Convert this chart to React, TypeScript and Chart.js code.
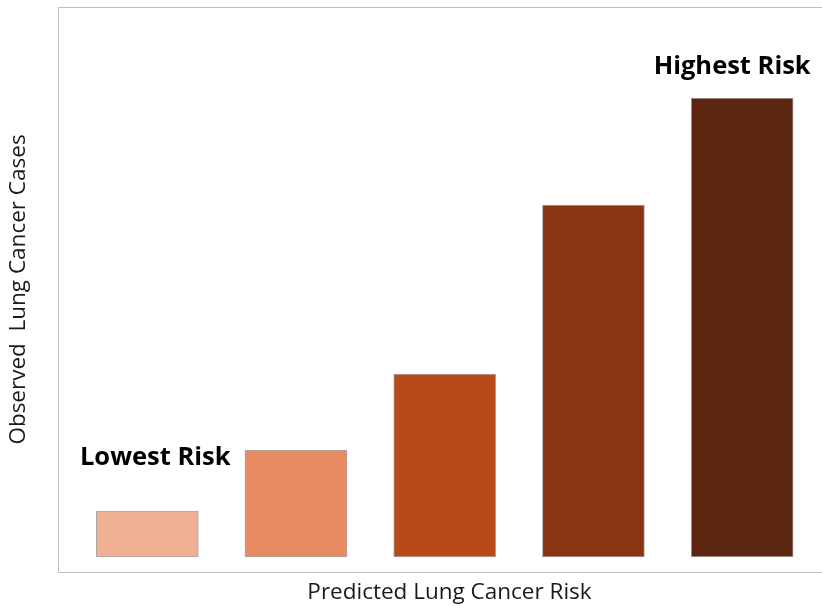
import React, { useEffect, useRef } from "react";
import { Chart, registerables } from "chart.js";

Chart.register(...registerables);

const riskGroups = [0, 1, 2, 3, 4];
const observedCases = [46, 107, 183, 352, 459];
const barColors = ["#F0B094", "#E88A62", "#B84A1A", "#8A3414", "#5C2510"];
const xAxisTitle = "Predicted Lung Cancer Risk";
const yAxisTitle = "Observed  Lung Cancer Cases";
const lowLabel = "Lowest Risk";
const highLabel = "Highest Risk";

const FONT = "'Open Sans', 'Noto Sans', sans-serif";

const decorPlugin = {
  id: "decor",
  beforeDatasetsDraw(chart: any) {
    const { ctx, chartArea } = chart;
    ctx.save();
    ctx.strokeStyle = "#bfbfbf";
    ctx.lineWidth = 1;
    ctx.strokeRect(
      Math.round(chartArea.left) + 0.5,
      Math.round(chartArea.top) + 0.5,
      Math.round(chartArea.right - chartArea.left) + 2,
      Math.round(chartArea.bottom - chartArea.top)
    );
    ctx.restore();
  },
  afterDatasetsDraw(chart: any) {
    const { ctx, chartArea } = chart;
    const meta = chart.getDatasetMeta(0);
    ctx.save();
    ctx.fillStyle = "#000000";
    ctx.font = `bold 25.5px ${FONT}`;
    ctx.textAlign = "center";
    ctx.textBaseline = "middle";
    const first = meta.data[0];
    const last = meta.data[meta.data.length - 1];
    ctx.fillText(lowLabel, first.x + 8, first.y - 53);
    ctx.fillText(highLabel, last.x - 10, last.y - 31);

    ctx.font = `22.5px ${FONT}`;
    ctx.fillStyle = "#1a1a1a";
    ctx.fillText(xAxisTitle, (chartArea.left + chartArea.right) / 2 + 10, chartArea.bottom + 21);
    ctx.translate(19, (chartArea.top + chartArea.bottom) / 2);
    ctx.rotate(-Math.PI / 2);
    ctx.fillText(yAxisTitle, 0, 0);
    ctx.restore();
  },
};

export default function App() {
  const ref = useRef<HTMLCanvasElement | null>(null);
  useEffect(() => {
    if (!ref.current) return;
    const chart = new Chart(ref.current, {
      type: "bar",
      data: {
        datasets: [
          {
            data: riskGroups.map((g, i) => ({ x: g, y: observedCases[i] })),
            backgroundColor: barColors,
            borderColor: "#a6a6a6",
            borderWidth: 1,
            borderSkipped: false,
            barThickness: 102,
          },
        ],
      },
      options: {
        animation: false,
        responsive: true,
        maintainAspectRatio: false,
        layout: { padding: { left: 58, top: 7, right: 1, bottom: 34 } },
        plugins: { legend: { display: false }, tooltip: { enabled: false } },
        scales: {
          x: { type: "linear", min: -0.6, max: 4.53, offset: false, display: false },
          y: { type: "linear", min: -15, max: 550, display: false },
        },
      },
      plugins: [decorPlugin],
    });
    return () => chart.destroy();
  }, []);
  return (
    <div style={{ position: "fixed", left: 0, top: 0, width: 822, height: 606, background: "#fff" }}>
      <canvas ref={ref} />
    </div>
  );
}
